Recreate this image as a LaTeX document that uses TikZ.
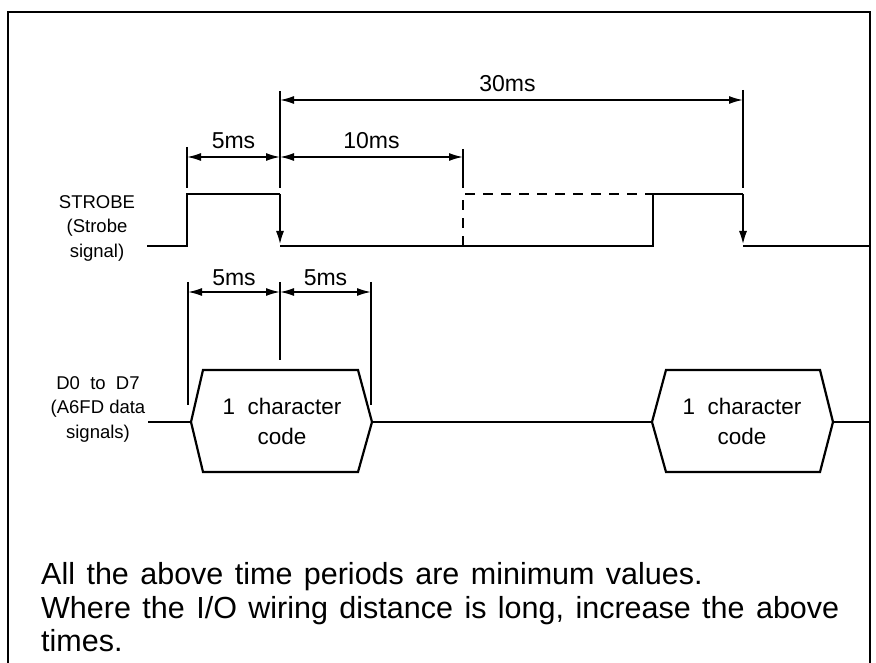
\documentclass[tikz,border=0pt]{standalone}
\usepackage{fontspec}
\setmainfont{Liberation Sans}
\newfontfamily\notefont[WordSpace=1.35]{Liberation Sans}
\usetikzlibrary{arrows.meta}
\begin{document}
\begin{tikzpicture}[x=1pt,y=-1pt,
  sig/.style={line width=2.8pt,line join=miter},
  dimline/.style={line width=1.6pt,{Latex[length=14pt,width=8pt]}-{Latex[length=14pt,width=8pt]}},
  extline/.style={line width=1.5pt},
  fall/.style={line width=2.8pt,-{Latex[length=15pt,width=8pt]}},
  lbl/.style={font=\fontsize{23}{26}\selectfont,inner sep=0pt},
  sidelbl/.style={font=\fontsize{18.5}{24.5}\selectfont,align=center,inner sep=0pt},
  hextxt/.style={font=\fontsize{22.5}{30}\selectfont,align=center,inner sep=0pt},
  notetxt/.style={font=\notefont\fontsize{30.5}{34}\selectfont,anchor=base west,inner sep=0pt}]
\useasboundingbox (0,0) rectangle (876,663);
% frame
\draw[line width=2.4pt] (8,700) -- (8,12) -- (870,12) -- (870,700);
% coordinates STROBE
\coordinate (s0) at (147,246);
\coordinate (r1b) at (187,246); \coordinate (r1t) at (187,194);
\coordinate (f1t) at (280,194); \coordinate (f1b) at (280,246);
\coordinate (d1b) at (463,246); \coordinate (d1t) at (463,194);
\coordinate (r2b) at (653,246); \coordinate (r2t) at (653,194);
\coordinate (f2t) at (743,194); \coordinate (f2b) at (743,246);
\coordinate (s9) at (870,246);
\draw[sig] (s0) -- (r1b) -- (r1t) -- (f1t);
\draw[fall] (f1t) -- (f1b);
\draw[sig] (f1b) -- (r2b) -- (r2t) -- (f2t);
\draw[fall] (f2t) -- (f2b);
\draw[sig] (f2b) -- (s9);
\draw[sig,dash pattern=on 10pt off 8pt] (d1b) -- (d1t) -- (r2t);
% extension lines strobe
\coordinate (e1a) at (187,147); \coordinate (e1b) at (187,188);
\coordinate (e2a) at (280,91);  \coordinate (e2b) at (280,188);
\coordinate (e3a) at (463,149); \coordinate (e3b) at (463,188);
\coordinate (e4a) at (743,90);  \coordinate (e4b) at (743,188);
\draw[extline] (e1a) -- (e1b);
\draw[extline] (e2a) -- (e2b);
\draw[extline] (e3a) -- (e3b);
\draw[extline] (e4a) -- (e4b);
\coordinate (m1) at (187,157); \coordinate (m2) at (280,157); \coordinate (m3) at (463,157);
\coordinate (t1) at (280,100); \coordinate (t2) at (743,100);
\draw[dimline] (m1) -- node[lbl,above=7pt] (l5a) {5ms} (m2);
\draw[dimline] (m2) -- node[lbl,above=7pt] (l10) {10ms} (m3);
\draw[dimline] (t1) -- node[lbl,above=7pt,xshift=-4pt] (l30) {30ms} (t2);
% labels
\node[sidelbl] (strobe) at (97,228) {STROBE\\(Strobe\\signal)};
\node[sidelbl] (data) at (98,409) {D0\ \ to\ \ D7\\(A6FD data\\signals)};
% data line
\coordinate (a0) at (148,422);
\coordinate (h1l) at (191,422); \coordinate (h1tl) at (203,370); \coordinate (h1tr) at (358,370);
\coordinate (h1r) at (372,422); \coordinate (h1br) at (358,472); \coordinate (h1bl) at (203,472);
\coordinate (h2l) at (652,422); \coordinate (h2tl) at (666,370); \coordinate (h2tr) at (820,370);
\coordinate (h2r) at (833,422); \coordinate (h2br) at (820,472); \coordinate (h2bl) at (666,472);
\coordinate (a9) at (870,422);
\draw[line width=2.2pt] (a0) -- (h1l);
\draw[line width=2.2pt,line join=miter] (h1l) -- (h1tl) -- (h1tr) -- (h1r) -- (h1br) -- (h1bl) -- cycle;
\draw[line width=2.2pt] (h1r) -- (h2l);
\draw[line width=2.2pt,line join=miter] (h2l) -- (h2tl) -- (h2tr) -- (h2r) -- (h2br) -- (h2bl) -- cycle;
\draw[line width=2.2pt] (h2r) -- (a9);
\node[hextxt] (c1) at (282,421) {1\ \ character\\code};
\node[hextxt] (c2) at (742,421) {1\ \ character\\code};
% data dimension
\coordinate (x1a) at (188,282); \coordinate (x1b) at (188,405);
\coordinate (x2a) at (280,282); \coordinate (x2b) at (280,360);
\coordinate (x3a) at (371,282); \coordinate (x3b) at (371,405);
\draw[extline] (x1a) -- (x1b);
\draw[extline] (x2a) -- (x2b);
\draw[extline] (x3a) -- (x3b);
\coordinate (n1) at (188,292); \coordinate (n2) at (280,292); \coordinate (n3) at (371,292);
\draw[dimline] (n1) -- node[lbl,above=5pt] (l5b) {5ms} (n2);
\draw[dimline] (n2) -- node[lbl,above=5pt] (l5c) {5ms} (n3);
% note
\node[notetxt] (note1) at (41,584) {All the above time periods are minimum values.};
\node[notetxt] (note2) at (41,618) {Where the I/O wiring distance is long, increase the above};
\node[notetxt] (note3) at (41,651) {times.};
\end{tikzpicture}
\end{document}
